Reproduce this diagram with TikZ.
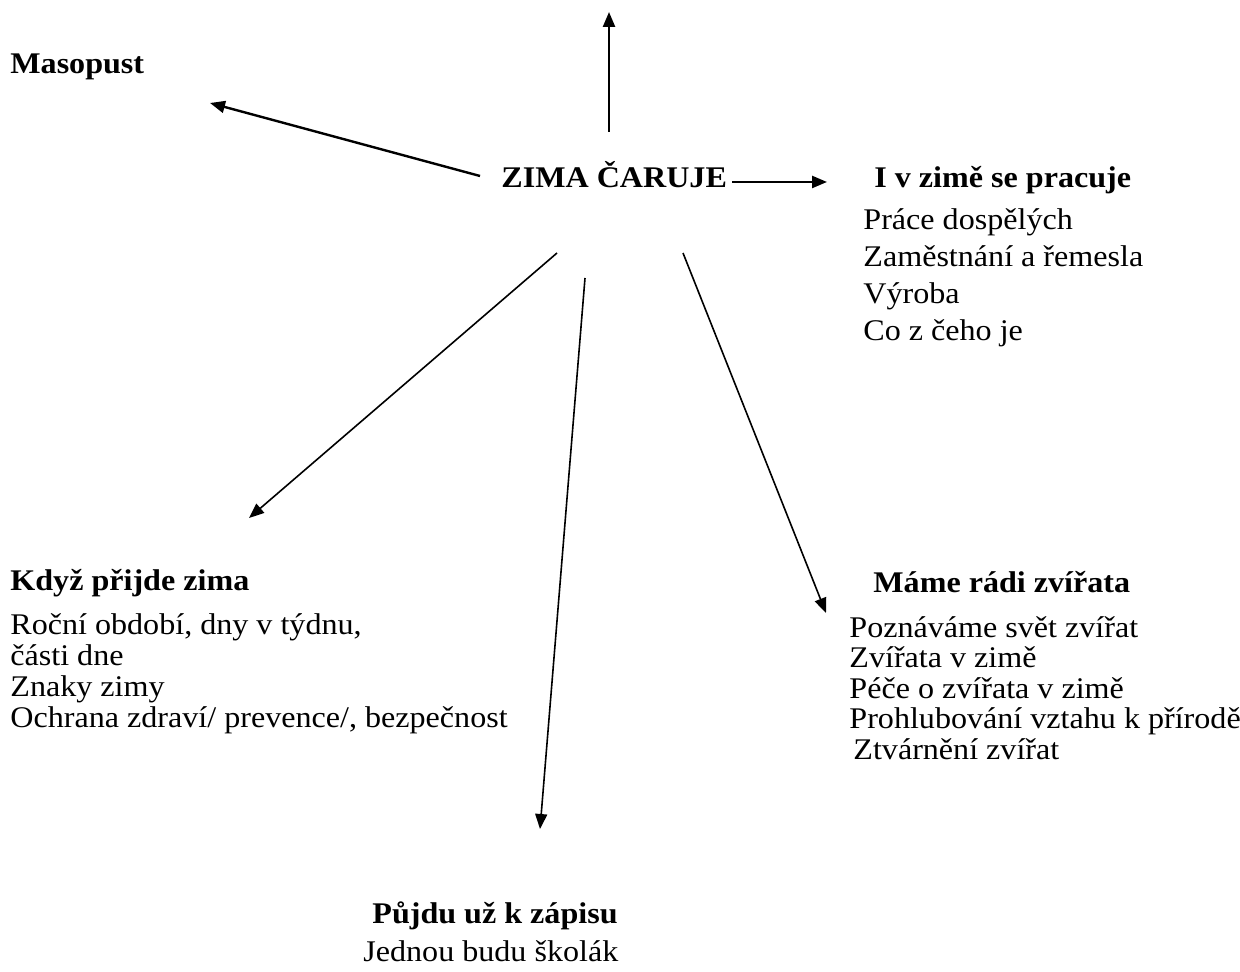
\documentclass[tikz,border=0pt]{standalone}
\usepackage{fontspec}
\setmainfont[FakeStretch=1.07]{Liberation Serif}
\usetikzlibrary{arrows.meta}

\begin{document}
\begin{tikzpicture}[x=0.5pt,y=-0.5pt,
    every node/.style={anchor=base west,inner sep=0pt},
    topic/.style={font=\fontsize{15}{17}\selectfont\bfseries},
    item/.style={font=\fontsize{15}{17}\selectfont},
    link/.style={line width=0.8pt,-{Triangle[length=7.5pt,width=6pt]}},
    mainlink/.style={link,line width=1.2pt},
    ]

    \useasboundingbox (0,0) rectangle (1240,972);

    % centre
    \node[topic] (zima) at (501,188) {ZIMA ČARUJE};

    % topics
    \node[topic] (masopust) at (10,74) {Masopust};
    \node[topic] (prace) at (874,188) {I v zimě se pracuje};
    \node[topic] (prijde) at (10,590) {Když přijde zima};
    \node[topic] (zvirata) at (873,592) {Máme rádi zvířata};
    \node[topic] (zapis) at (372,923) {Půjdu už k zápisu};

    % items
    \foreach \txt [count=\i from 0] in {Práce dospělých, Zaměstnání a řemesla, Výroba, Co z čeho je}
        \node[item] (prace-\i) at (863,{230+37*\i}) {\txt};
    \foreach \txt [count=\i from 0] in {{Roční období, dny v týdnu,}, části dne, Znaky zimy,
        {Ochrana zdraví/ prevence/, bezpečnost}}
        \node[item] (prijde-\i) at (10,{634+31*\i}) {\txt};
    \foreach \dx/\txt [count=\i from 0] in {0/Poznáváme svět zvířat, 0/Zvířata v zimě,
        0/Péče o zvířata v zimě, 0/Prohlubování vztahu k přírodě, 4/Ztvárnění zvířat}
        \node[item] (zvirata-\i) at ({849+\dx},{637+30.5*\i}) {\txt};
    \node[item] (zapis-0) at (363,961) {Jednou budu školák};

    % arrow ends
    \coordinate (from-up) at (609,132);
    \coordinate (to-up) at (609,12);
    \coordinate (from-masopust) at (480,176);
    \coordinate (to-masopust) at (210,103);
    \coordinate (from-prace) at (732,182);
    \coordinate (to-prace) at (827,182);
    \coordinate (from-prijde) at (557,253);
    \coordinate (to-prijde) at (249,518);
    \coordinate (from-zapis) at (585,278);
    \coordinate (to-zapis) at (540,829);
    \coordinate (from-zvirata) at (683,253);
    \coordinate (to-zvirata) at (826,613);

    % arrows
    \draw[mainlink] (from-up) -- (to-up);
    \draw[mainlink] (from-masopust) -- (to-masopust);
    \draw[mainlink] (from-prace) -- (to-prace);
    \draw[link] (from-prijde) -- (to-prijde);
    \draw[link] (from-zapis) -- (to-zapis);
    \draw[link] (from-zvirata) -- (to-zvirata);
\end{tikzpicture}
\end{document}
